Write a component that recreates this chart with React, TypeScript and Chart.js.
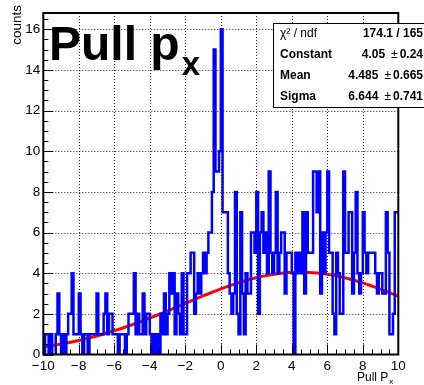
import React, { useEffect, useRef } from "react";
import { Chart, registerables } from "chart.js";

Chart.register(...registerables);

// Histogram range and binning
const X_MIN = -10;
const X_MAX = 10;
const BIN_WIDTH = 0.1;
const Y_MAX = 16.8;

// Bin contents, 200 bins of width 0.1 from -10 to 10 (one row per unit of x)
const counts: number[] = [
  0, 1, 1, 0, 1, 0, 0, 1, 3, 1,
  0, 1, 0, 1, 2, 2, 4, 1, 1, 1,
  3, 1, 0, 1, 1, 0, 1, 1, 1, 1,
  3, 1, 1, 1, 2, 3, 1, 2, 2, 1,
  1, 1, 0, 1, 1, 1, 0, 1, 2, 2,
  2, 4, 1, 2, 1, 1, 3, 1, 2, 2,
  1, 0, 1, 0, 1, 0, 2, 1, 3, 1,
  2, 4, 3, 4, 1, 3, 2, 1, 4, 1,
  1, 4, 4, 5, 5, 2, 3, 4, 3, 4,
  5, 4, 5, 6, 6, 8, 15, 9, 9, 10,
  16, 7, 7, 7, 4, 3, 2, 3, 8, 2,
  1, 7, 3, 1, 4, 3, 3, 6, 6, 5,
  8, 2, 6, 7, 5, 6, 4, 9, 5, 4,
  5, 8, 4, 5, 6, 6, 3, 5, 5, 5,
  4, 0, 5, 4, 5, 4, 7, 3, 7, 5,
  5, 5, 9, 9, 7, 9, 3, 6, 4, 6,
  9, 5, 5, 2, 1, 5, 4, 2, 2, 9,
  5, 5, 7, 7, 3, 5, 8, 4, 3, 4,
  7, 5, 4, 5, 5, 5, 5, 4, 3, 4,
  4, 3, 3, 7, 5, 1, 1, 2, 7, 7,
];

// Axis ticks
const xMajorTicks = [-10, -8, -6, -4, -2, 0, 2, 4, 6, 8, 10];
const yMajorTicks = [0, 2, 4, 6, 8, 10, 12, 14, 16];
const MINOR_STEP = 0.5;

// Gaussian fit parameters
const fitConstant = 4.05;
const fitMean = 4.485;
const fitSigma = 6.644;
const FIT_STEP = 0.2;

// Fit statistics box
const statsLabels = ["χ² / ndf", "Constant", "Mean", "Sigma"];
const statsValues = ["174.1 / 165", "4.05", "4.485", "6.644"];
const statsErrors = ["", "0.24", "0.665", "0.741"];

const FONT = '"Liberation Sans", Arial, Helvetica, sans-serif';

function histogramOutline() {
  const pts: { x: number; y: number }[] = [{ x: X_MIN, y: 0 }];
  counts.forEach((c, i) => {
    const lo = X_MIN + i * BIN_WIDTH;
    pts.push({ x: lo, y: c });
    pts.push({ x: lo + BIN_WIDTH, y: c });
  });
  pts.push({ x: X_MAX, y: 0 });
  return pts;
}

function fitCurve() {
  const pts: { x: number; y: number }[] = [];
  const n = Math.round((X_MAX - X_MIN) / FIT_STEP);
  for (let i = 0; i <= n; i++) {
    const x = X_MIN + i * FIT_STEP;
    const z = (x - fitMean) / fitSigma;
    pts.push({ x, y: fitConstant * Math.exp(-0.5 * z * z) });
  }
  return pts;
}

const fmtTick = (v: number) => (v < 0 ? "\u2212" + Math.abs(v) : String(v));

const decorPlugin = {
  id: "rootDecor",
  beforeDatasetsDraw(chart: any) {
    const { ctx, chartArea: a, scales } = chart;
    const xs = scales.x;
    const ys = scales.y;
    ctx.save();
    ctx.strokeStyle = "rgba(0,0,0,0.85)";
    ctx.lineWidth = 1;
    ctx.setLineDash([1, 2]);
    xMajorTicks.forEach((v) => {
      if (v === X_MIN || v === X_MAX) return;
      const px = Math.round(xs.getPixelForValue(v)) + 0.5;
      ctx.beginPath();
      ctx.moveTo(px, a.top);
      ctx.lineTo(px, a.bottom);
      ctx.stroke();
    });
    yMajorTicks.forEach((v) => {
      if (v === 0) return;
      const py = Math.round(ys.getPixelForValue(v)) + 0.5;
      ctx.beginPath();
      ctx.moveTo(a.left, py);
      ctx.lineTo(a.right, py);
      ctx.stroke();
    });
    ctx.restore();
  },
  afterDatasetsDraw(chart: any) {
    const { ctx, chartArea: a, scales } = chart;
    const xs = scales.x;
    const ys = scales.y;
    ctx.save();

    // ticks
    ctx.strokeStyle = "#000";
    ctx.lineWidth = 1;
    for (let v = X_MIN; v <= X_MAX + 1e-9; v += MINOR_STEP) {
      const major = Math.abs(v / 2 - Math.round(v / 2)) < 1e-6;
      const px = Math.round(xs.getPixelForValue(v)) + 0.5;
      ctx.beginPath();
      ctx.moveTo(px, a.bottom);
      ctx.lineTo(px, a.bottom - (major ? 10 : 5));
      ctx.stroke();
    }
    for (let v = 0; v <= Y_MAX + 1e-9; v += MINOR_STEP) {
      const major = Math.abs(v / 2 - Math.round(v / 2)) < 1e-6;
      const py = Math.round(ys.getPixelForValue(v)) + 0.5;
      ctx.beginPath();
      ctx.moveTo(a.left, py);
      ctx.lineTo(a.left + (major ? 10 : 5), py);
      ctx.stroke();
    }

    // frame
    ctx.lineWidth = 2;
    ctx.strokeRect(a.left, a.top, a.right - a.left, a.bottom - a.top);

    // tick labels
    ctx.fillStyle = "#000";
    ctx.font = `13.5px ${FONT}`;
    ctx.textAlign = "center";
    ctx.textBaseline = "top";
    xMajorTicks.forEach((v) => {
      ctx.fillText(fmtTick(v), xs.getPixelForValue(v), a.bottom + 5);
    });
    ctx.textAlign = "right";
    ctx.textBaseline = "middle";
    yMajorTicks.forEach((v) => {
      ctx.fillText(fmtTick(v), a.left - 3, ys.getPixelForValue(v));
    });

    // x axis title
    ctx.font = `12px ${FONT}`;
    ctx.textBaseline = "alphabetic";
    ctx.textAlign = "right";
    const subW = 6;
    ctx.fillText("Pull P", a.right - subW - 4, 381);
    ctx.font = `8px ${FONT}`;
    ctx.textAlign = "left";
    ctx.fillText("x", a.right - subW - 3, 384);

    // y axis title
    ctx.save();
    ctx.translate(21, 5);
    ctx.rotate(-Math.PI / 2);
    ctx.font = `13.5px ${FONT}`;
    ctx.textAlign = "right";
    ctx.textBaseline = "alphabetic";
    ctx.fillText("counts", 0, 0);
    ctx.restore();

    // histogram title
    ctx.textAlign = "left";
    ctx.textBaseline = "alphabetic";
    ctx.font = `bold 48px ${FONT}`;
    const t = "Pull p";
    ctx.fillText(t, 49, 60);
    const tw = ctx.measureText(t).width;
    ctx.font = `bold 33px ${FONT}`;
    ctx.fillText("x", 49 + tw + 2, 75);

    // stats box
    const bx = 273;
    const by = 23;
    const bw = 160;
    const bh = 84;
    ctx.fillStyle = "#fff";
    ctx.fillRect(bx, by, bw, bh);
    ctx.strokeStyle = "#000";
    ctx.lineWidth = 1;
    ctx.strokeRect(bx + 0.5, by + 0.5, bw, bh);
    ctx.fillStyle = "#000";
    const rowH = bh / statsLabels.length;
    const R = 423;
    statsLabels.forEach((lab, i) => {
      const cy = by + rowH * (i + 0.5) + 0.5;
      ctx.textBaseline = "middle";
      ctx.textAlign = "left";
      ctx.font = i === 0 ? `12px ${FONT}` : `bold 12px ${FONT}`;
      ctx.fillText(lab, 280, cy);
      ctx.font = `bold 12px ${FONT}`;
      ctx.textAlign = "right";
      if (!statsErrors[i]) {
        ctx.fillText(statsValues[i], R, cy);
      } else {
        ctx.fillText(statsErrors[i], R, cy);
        const ew = ctx.measureText(statsErrors[i]).width;
        ctx.font = `12px ${FONT}`;
        ctx.fillText("±", R - ew - 2, cy);
        const pw = ctx.measureText("±").width;
        ctx.font = `bold 12px ${FONT}`;
        ctx.fillText(statsValues[i], R - ew - 2 - pw - 6, cy);
      }
    });

    ctx.restore();
  },
};

export default function App() {
  const canvasRef = useRef<HTMLCanvasElement | null>(null);

  useEffect(() => {
    if (!canvasRef.current) return;
    const chart = new Chart(canvasRef.current, {
      type: "line",
      data: {
        datasets: [
          {
            label: "hist",
            data: histogramOutline(),
            borderColor: "#0000ff",
            borderWidth: 2.5,
            pointRadius: 0,
            tension: 0,
            fill: false,
            borderJoinStyle: "miter",
          },
          {
            label: "gaus",
            data: fitCurve(),
            borderColor: "#ff0000",
            borderWidth: 3,
            pointRadius: 0,
            tension: 0,
            fill: false,
          },
        ],
      },
      options: {
        animation: false,
        responsive: false,
        maintainAspectRatio: false,
        parsing: false,
        layout: { padding: { left: 43.3, right: 25.7, top: 13, bottom: 30.5 } },
        plugins: { legend: { display: false }, tooltip: { enabled: false } },
        scales: {
          x: { type: "linear", min: X_MIN, max: X_MAX, display: false },
          y: { type: "linear", min: 0, max: Y_MAX, display: false },
        },
      },
      plugins: [decorPlugin],
    });
    return () => chart.destroy();
  }, []);

  return (
    <div style={{ position: "absolute", left: 0, top: 0, width: 424, height: 385, background: "#fff" }}>
      <canvas ref={canvasRef} width={424} height={385} style={{ display: "block" }} />
    </div>
  );
}
